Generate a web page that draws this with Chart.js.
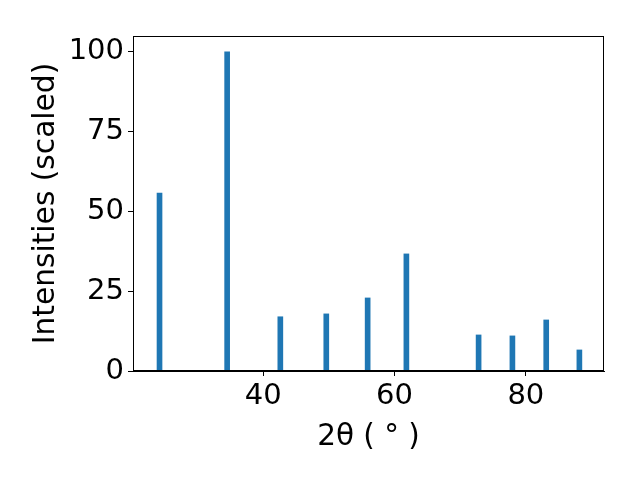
<!DOCTYPE html>
<html>
<head>
<meta charset="utf-8">
<script src="https://cdn.jsdelivr.net/npm/chart.js@4.4.0/dist/chart.umd.min.js"></script>
<style>
  html, body { margin: 0; padding: 0; background: #fff; }
  #wrap { width: 640px; height: 480px; }
</style>
</head>
<body>
<div id="wrap"><canvas id="xrd-chart" width="640" height="480"></canvas></div>
<script>
// Peak positions (2theta, degrees) and scaled intensities
const peakPositions = [24.2, 34.5, 42.6, 49.6, 55.9, 61.8, 72.8, 77.95, 83.1, 88.15];
const peakIntensities = [55.8, 100, 17.0, 17.9, 22.9, 36.7, 11.3, 11.0, 16.0, 6.6];
const xTicks = [40, 60, 80];
const yTicks = [0, 25, 50, 75, 100];

const fontFamily = '"DejaVu Sans", sans-serif';

// draw top/right spines like matplotlib
const frameBox = {
    id: 'frameBox',
    afterDraw(chart) {
        const a = chart.chartArea;
        const c = chart.ctx;
        c.save();
        c.strokeStyle = '#000';
        c.lineWidth = 1;
        c.strokeRect(a.left + 0.5, a.top + 0.5, a.right - a.left - 1, a.bottom - a.top - 1);
        c.restore();
    }
};

const ctx = document.getElementById('xrd-chart').getContext('2d');
const xrdChart = new Chart(ctx, {
    type: 'bar',
    data: {
        datasets: [{
            data: peakPositions.map((x, i) => ({ x: x, y: peakIntensities[i] })),
            backgroundColor: '#1f77b4',
            borderWidth: 0,
            barThickness: 5
        }]
    },
    options: {
        responsive: false,
        animation: false,
        layout: { padding: { left: 0, top: 36, right: 36, bottom: 0 } },
        plugins: {
            legend: { display: false },
            tooltip: { enabled: false }
        },
        scales: {
            x: {
                type: 'linear',
                min: 20.16,
                max: 91.9,
                offset: false,
                afterBuildTicks: (scale) => { scale.ticks = xTicks.map(v => ({ value: v })); },
                afterFit: (scale) => { scale.height = 109; },
                grid: { offset: false, drawOnChartArea: false, drawTicks: true, tickLength: 5, tickWidth: 1, tickColor: '#000' },
                border: { display: true, color: '#000', width: 1 },
                ticks: { color: '#000', font: { family: fontFamily, size: 29 }, padding: 3, maxRotation: 0, autoSkip: false },
                title: { display: true, text: '2θ ( ° )', color: '#000', font: { family: fontFamily, size: 29.5 }, padding: { top: 2, bottom: 25 } }
            },
            y: {
                min: 0,
                max: 105,
                afterBuildTicks: (scale) => { scale.ticks = yTicks.map(v => ({ value: v })); },
                afterFit: (scale) => { scale.width = 133; },
                grid: { drawOnChartArea: false, drawTicks: true, tickLength: 5, tickWidth: 1, tickColor: '#000' },
                border: { display: true, color: '#000', width: 1 },
                ticks: { color: '#000', font: { family: fontFamily, size: 29 }, padding: 4 },
                title: { display: true, text: 'Intensities (scaled)', color: '#000', font: { family: fontFamily, size: 29.7 }, padding: { top: 28, bottom: 4 } }
            }
        }
    },
    plugins: [frameBox]
});
</script>
</body>
</html>
